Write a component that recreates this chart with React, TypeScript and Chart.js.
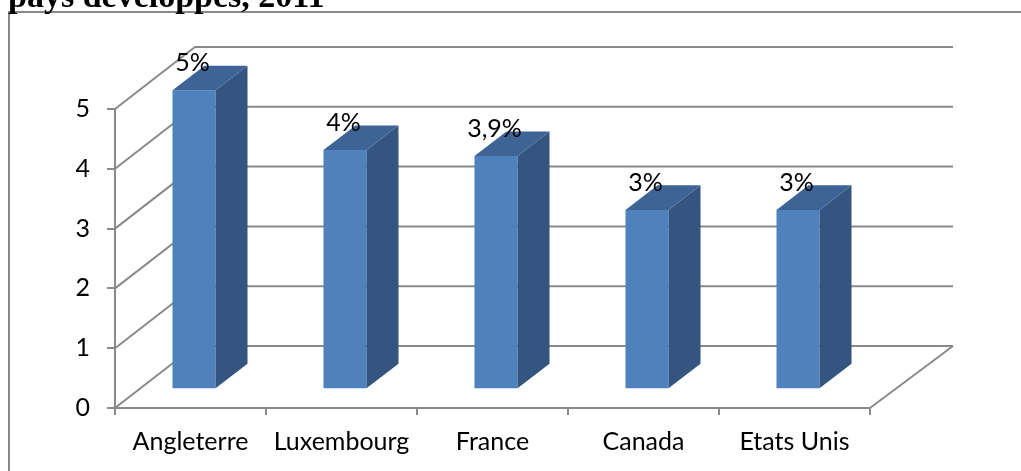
import React, { useEffect, useRef } from 'react';
import { Chart, registerables } from 'chart.js';

Chart.register(...registerables);

// ---- data ----
const categories: string[] = ['Angleterre', 'Luxembourg', 'France', 'Canada', 'Etats Unis'];
const values: number[] = [5, 4, 3.9, 3, 3];
const valueLabels: string[] = ['5%', '4%', '3,9%', '3%', '3%'];
const yTicks: number[] = [0, 1, 2, 3, 4, 5];
const titleText = 'pays développés, 2011';

// ---- styles ----
const FONT = 'Lato';
const GRID = '#8a8a8a';
const FRONT = '#4F81BD';
const SIDE = '#34557F';
const TOP = '#3D6494';
const WALL_L = { dx: 80, dy: -62 };
const WALL_R = { dx: 83, dy: -62 };
const BAR_SHIFT = { x: 3.5, y: -18.7 };
const BAR_DEPTH = { x: 32, y: -24.6 };

const threeD = {
  id: 'threeD',
  beforeDraw(chart: any) {
    const ctx = chart.ctx as CanvasRenderingContext2D;
    ctx.save();
    ctx.strokeStyle = '#888888';
    ctx.lineWidth = 2;
    ctx.beginPath();
    ctx.moveTo(9, 500);
    ctx.lineTo(9, 12);
    ctx.lineTo(1040, 12);
    ctx.stroke();
    ctx.fillStyle = '#000';
    ctx.font = 'bold 34px "Liberation Serif"';
    ctx.textAlign = 'left';
    ctx.textBaseline = 'alphabetic';
    ctx.fillText(titleText, 8, 7);
    ctx.restore();
  },
  beforeDatasetsDraw(chart: any) {
    const ctx = chart.ctx as CanvasRenderingContext2D;
    const { chartArea, scales } = chart;
    const y = scales.y;
    const L = chartArea.left;
    const R = chartArea.right;
    ctx.save();
    ctx.strokeStyle = GRID;
    ctx.lineWidth = 2;
    yTicks.forEach((v) => {
      const py = y.getPixelForValue(v);
      ctx.beginPath();
      ctx.moveTo(L, py);
      ctx.lineTo(L + WALL_L.dx, py + WALL_L.dy);
      ctx.lineTo(R + WALL_R.dx, py + WALL_R.dy);
      ctx.stroke();
    });
    const p0 = y.getPixelForValue(0);
    ctx.beginPath();
    ctx.moveTo(R, p0);
    ctx.lineTo(R + WALL_R.dx, p0 + WALL_R.dy);
    ctx.stroke();
    ctx.restore();
    ctx.save();
    ctx.translate(BAR_SHIFT.x, BAR_SHIFT.y);
  },
  afterDatasetsDraw(chart: any) {
    const ctx = chart.ctx as CanvasRenderingContext2D;
    ctx.restore();
    const meta = chart.getDatasetMeta(0);
    ctx.save();
    meta.data.forEach((bar: any, i: number) => {
      const p = bar.getProps(['x', 'y', 'base', 'width'], true);
      const l = p.x - p.width / 2 + BAR_SHIFT.x;
      const r = p.x + p.width / 2 + BAR_SHIFT.x;
      const t = p.y + BAR_SHIFT.y;
      const b = p.base + BAR_SHIFT.y;
      ctx.fillStyle = SIDE;
      ctx.beginPath();
      ctx.moveTo(r, t);
      ctx.lineTo(r + BAR_DEPTH.x, t + BAR_DEPTH.y);
      ctx.lineTo(r + BAR_DEPTH.x, b + BAR_DEPTH.y);
      ctx.lineTo(r, b);
      ctx.closePath();
      ctx.fill();
      ctx.fillStyle = TOP;
      ctx.beginPath();
      ctx.moveTo(l, t);
      ctx.lineTo(r, t);
      ctx.lineTo(r + BAR_DEPTH.x, t + BAR_DEPTH.y);
      ctx.lineTo(l + BAR_DEPTH.x, t + BAR_DEPTH.y);
      ctx.closePath();
      ctx.fill();
      ctx.fillStyle = '#000';
      ctx.font = `25px ${FONT}`;
      ctx.textAlign = 'center';
      ctx.textBaseline = 'middle';
      ctx.fillText(valueLabels[i], (l + r) / 2 - 1.5, t - 27);
    });
    ctx.restore();
  },
};

export default function App() {
  const ref = useRef<HTMLCanvasElement>(null);
  useEffect(() => {
    if (!ref.current) return;
    const chart = new Chart(ref.current, {
      type: 'bar',
      data: {
        labels: categories,
        datasets: [
          {
            data: values,
            backgroundColor: FRONT,
            borderWidth: 0,
            categoryPercentage: 1,
            barPercentage: 0.285,
            clip: false as any,
          },
        ],
      },
      options: {
        animation: false,
        responsive: false,
        devicePixelRatio: 1,
        layout: { padding: { left: 0, top: 109, right: 151, bottom: 13 } },
        plugins: { legend: { display: false }, tooltip: { enabled: false }, title: { display: false } },
        scales: {
          x: {
            offset: true,
            grid: { offset: true, drawOnChartArea: false, drawTicks: true, tickLength: 7, color: GRID, lineWidth: 2 },
            border: { display: true, color: GRID, width: 2 },
            ticks: { color: '#000', font: { family: FONT, size: 25 }, padding: 12, maxRotation: 0, autoSkip: false },
            afterFit: (s: any) => { s.height = 50; },
          },
          y: {
            min: 0,
            max: 5,
            grid: { drawOnChartArea: false, drawTicks: true, tickLength: 8, color: GRID, lineWidth: 2 },
            border: { display: true, color: GRID, width: 2 },
            ticks: { stepSize: 1, color: '#000', font: { family: FONT, size: 25 }, padding: 17 },
            afterFit: (s: any) => { s.width = 115; },
          },
        },
      },
      plugins: [threeD],
    });
    return () => chart.destroy();
  }, []);
  return (
    <div style={{ position: 'absolute', left: 0, top: 0, width: 1021, height: 471, background: '#fff' }}>
      <canvas ref={ref} width={1021} height={471} style={{ display: 'block' }} />
    </div>
  );
}
